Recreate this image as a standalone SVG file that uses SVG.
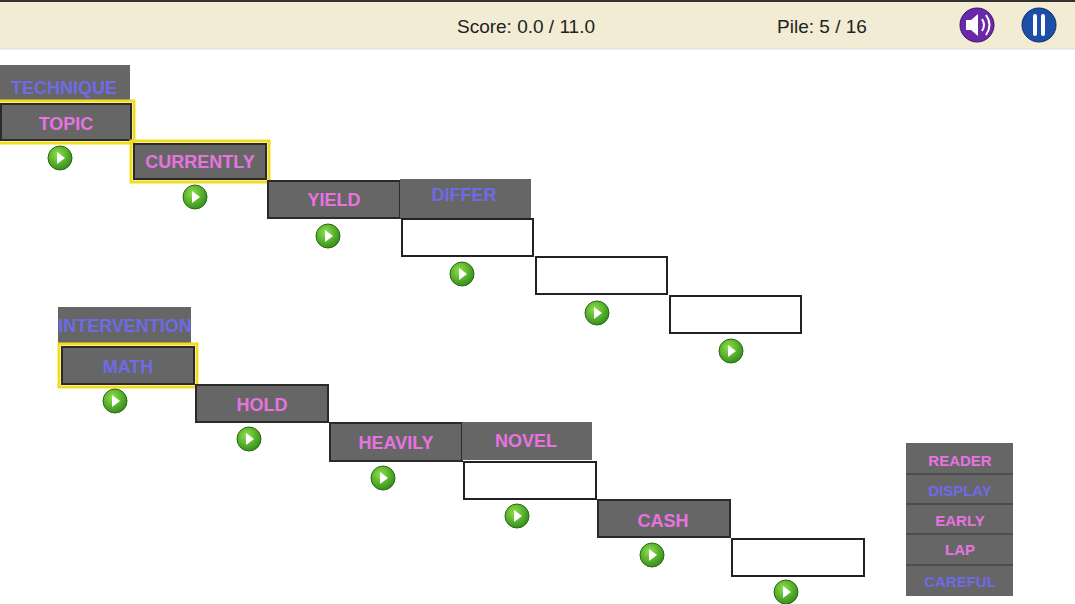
<svg xmlns="http://www.w3.org/2000/svg" width="1075" height="604" viewBox="0 0 1075 604">
<defs>
<style>
text{font-family:"Liberation Sans",Arial,sans-serif;font-weight:bold;text-anchor:middle;font-size:18px}
.g{fill:#666666}
.b{fill:#666666;stroke:#2a2a2a;stroke-width:2}
.y{fill:none;stroke:#f2dc20;stroke-width:3}
.e{fill:#fff;stroke:#222;stroke-width:2}
.pk{fill:#e873e0}
.bl{fill:#6f6ae6}
.hd{font-weight:normal;font-size:19px;fill:#222}
.sl{font-size:15px}
</style>
<radialGradient id="pg" cx="0.4" cy="0.35" r="0.7"><stop offset="0" stop-color="#8fe04a"/><stop offset="1" stop-color="#2f8a18"/></radialGradient>
<g id="play"><circle r="12" fill="url(#pg)" stroke="#2a6a10" stroke-width="1"/><path d="M-3,-6 L5,0 L-3,6 Z" fill="#fff"/></g>
</defs>
<rect width="1075" height="604" fill="#fff"/>
<g id="header">
<rect x="0" y="0" width="1075" height="49" fill="#f1ecd3"/>
<line x1="0" y1="1" x2="1075" y2="1" stroke="#333" stroke-width="2"/>
<line x1="0" y1="49" x2="1075" y2="49" stroke="#ddd" stroke-width="1"/>
<text class="hd" x="526" y="33">Score: 0.0 / 11.0</text>
<text class="hd" x="822" y="33">Pile: 5 / 16</text>
<circle cx="977" cy="25" r="17" fill="#6a2aa8" stroke="#3a1070"/>
<path d="M966,20 h5 l7,-6 v22 l-7,-6 h-5 z" fill="#fff"/>
<path d="M982,19 q4,6 0,12 M986,15 q7,10 0,20" fill="none" stroke="#fff" stroke-width="2"/>
<circle cx="1039" cy="25" r="17" fill="#1e4fa8" stroke="#0d2a70"/>
<rect x="1033" y="14" width="4" height="22" rx="2" fill="#fff"/>
<rect x="1041" y="14" width="4" height="22" rx="2" fill="#fff"/>
</g>
<g id="n-technique"><rect class="g" x="0" y="65" width="130" height="36"/><text class="bl" x="64" y="94">TECHNIQUE</text></g>
<g id="n-topic"><rect class="y" x="-2" y="101" width="136" height="42"/><rect class="b" x="1" y="104" width="130" height="36"/><text class="pk" x="66" y="130">TOPIC</text></g>
<g id="n-currently"><rect class="y" x="131" y="141" width="138" height="41"/><rect class="b" x="134" y="144" width="132" height="35"/><text class="pk" x="200" y="168">CURRENTLY</text></g>
<g id="n-yield"><rect class="b" x="268" y="181" width="132" height="37"/><text class="pk" x="334" y="206">YIELD</text></g>
<g id="n-differ"><rect class="g" x="400" y="179" width="131" height="39"/><text class="bl" x="464" y="201">DIFFER</text></g>
<g id="n-e1"><rect class="e" x="402" y="219" width="131" height="37"/></g>
<g id="n-e2"><rect class="e" x="536" y="257" width="131" height="37"/></g>
<g id="n-e3"><rect class="e" x="670" y="296" width="131" height="37"/></g>
<g id="n-intervention"><rect class="g" x="58" y="307" width="133" height="37"/><text class="bl" x="125" y="332">INTERVENTION</text></g>
<g id="n-math"><rect class="y" x="59" y="344" width="138" height="43"/><rect class="b" x="62" y="347" width="132" height="37"/><text class="bl" x="128" y="373">MATH</text></g>
<g id="n-hold"><rect class="b" x="196" y="385" width="132" height="37"/><text class="pk" x="262" y="411">HOLD</text></g>
<g id="n-heavily"><rect class="b" x="330" y="423" width="132" height="38"/><text class="pk" x="396" y="449">HEAVILY</text></g>
<g id="n-novel"><rect class="g" x="462" y="422" width="130" height="38"/><text class="pk" x="526" y="447">NOVEL</text></g>
<g id="n-e4"><rect class="e" x="464" y="462" width="132" height="37"/></g>
<g id="n-cash"><rect class="b" x="598" y="500" width="132" height="37"/><text class="pk" x="663" y="527">CASH</text></g>
<g id="n-e5"><rect class="e" x="732" y="539" width="132" height="37"/></g>
<g id="plays">
<use href="#play" x="60" y="158"/><use href="#play" x="195" y="197"/><use href="#play" x="328" y="236"/>
<use href="#play" x="462" y="274"/><use href="#play" x="597" y="313"/><use href="#play" x="731" y="351"/>
<use href="#play" x="115" y="401"/><use href="#play" x="249" y="439"/><use href="#play" x="383" y="478"/>
<use href="#play" x="517" y="516"/><use href="#play" x="652" y="555"/><use href="#play" x="786" y="592"/>
</g>
<g id="n-pile">
<rect class="g" x="906" y="443" width="107" height="153"/>
<g stroke="#333" stroke-width="1"><line x1="906" y1="474" x2="1013" y2="474"/><line x1="906" y1="504" x2="1013" y2="504"/><line x1="906" y1="534" x2="1013" y2="534"/><line x1="906" y1="565" x2="1013" y2="565"/></g>
<text class="pk sl" x="960" y="466">READER</text>
<text class="bl sl" x="960" y="496">DISPLAY</text>
<text class="pk sl" x="960" y="526">EARLY</text>
<text class="pk sl" x="960" y="555">LAP</text>
<text class="bl sl" x="960" y="587">CAREFUL</text>
</g>
</svg>
